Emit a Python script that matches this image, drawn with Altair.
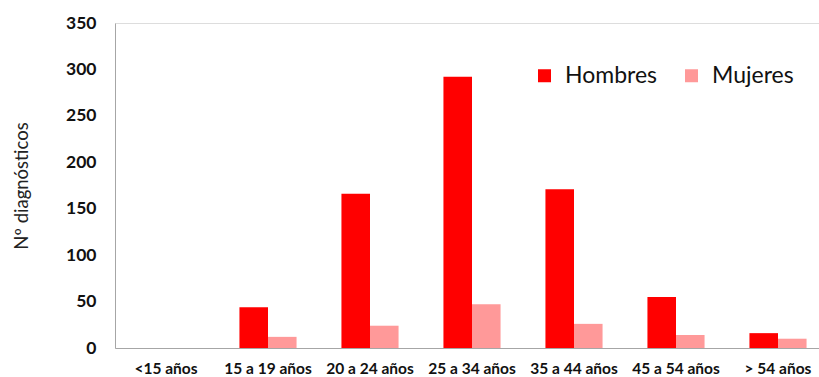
import altair as alt
import pandas as pd

categories = ["<15 años", "15 a 19 años", "20 a 24 años", "25 a 34 años",
              "35 a 44 años", "45 a 54 años", "> 54 años"]
hombres = [0, 44, 166, 292, 171, 55, 16]
mujeres = [0, 12, 24, 47, 26, 14, 10]
series = ["Hombres", "Mujeres"]
colors = ["#FF0000", "#FF9999"]

rows = []
for c, h, m in zip(categories, hombres, mujeres):
    rows.append({"cat": c, "sexo": "Hombres", "n": h})
    rows.append({"cat": c, "sexo": "Mujeres", "n": m})
df = pd.DataFrame(rows)

FONT = "Lato"

chart = alt.Chart(df).mark_bar().encode(
    x=alt.X("cat:N", sort=categories, title=None,
            scale=alt.Scale(paddingInner=0.44, paddingOuter=0.22, range=[0, 714]),
            axis=alt.Axis(labelAngle=0, ticks=False, domainColor="#A6A6A6",
                          labelFont=FONT, labelFontSize=15.5, labelFontWeight="bold",
                          labelColor="#111111", labelPadding=13)),
    xOffset=alt.XOffset("sexo:N", sort=series),
    y=alt.Y("n:Q", title="Nº diagnósticos",
            scale=alt.Scale(domain=[0, 350], nice=False),
            axis=alt.Axis(values=list(range(0, 351, 50)), grid=False, ticks=False,
                          domainColor="#A6A6A6", labelFont=FONT, labelFontSize=17.5,
                          labelFontWeight="bold", labelColor="#111111", labelPadding=19,
                          titleFont=FONT, titleFontSize=18.5, titleFontWeight="normal",
                          titleColor="#222222", titlePadding=34)),
    color=alt.Color("sexo:N", sort=series,
                    scale=alt.Scale(domain=series, range=colors),
                    legend=alt.Legend(title=None, orient="none", legendX=418, legendY=41,
                                      direction="horizontal", symbolType="square",
                                      symbolSize=169, symbolStrokeWidth=0,
                                      labelFont=FONT, labelFontSize=23,
                                      labelColor="#111111", columnPadding=22,
                                      labelOffset=9)),
).properties(
    width=704, height=325,
    autosize=alt.AutoSizeParams(type="none"),
    padding={"left": 115, "top": 23, "right": 0, "bottom": 29},
).configure_view(stroke=None).configure(background="white")

chart.save("out.html", embed_options={"renderer": "svg", "actions": False})
